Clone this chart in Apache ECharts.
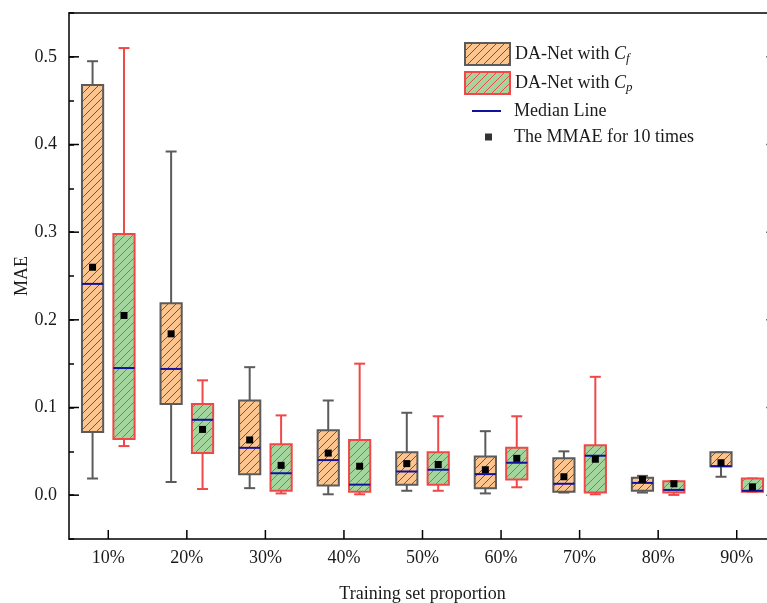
<!DOCTYPE html>
<html>
<head>
<meta charset="utf-8">
<script src="https://cdn.jsdelivr.net/npm/echarts@6/dist/echarts.min.js"></script>
<style>
  html, body { margin: 0; padding: 0; background: #fff; }
  #chart { width: 767px; height: 603px; }
</style>
</head>
<body>
<div id="chart"></div>
<script>
  const categories = ['10%', '20%', '30%', '40%', '50%', '60%', '70%', '80%', '90%'];
  const yTicks = [0, 0.1, 0.2, 0.3, 0.4, 0.5];

  // [min, Q1, median, Q3, max]
  const cfBoxes = [
    [0.019, 0.072, 0.241, 0.468, 0.495],
    [0.015, 0.104, 0.144, 0.219, 0.392],
    [0.008, 0.024, 0.054, 0.108, 0.146],
    [0.001, 0.011, 0.040, 0.074, 0.108],
    [0.005, 0.012, 0.027, 0.049, 0.094],
    [0.002, 0.008, 0.024, 0.044, 0.073],
    [0.003, 0.004, 0.013, 0.042, 0.050],
    [0.003, 0.005, 0.014, 0.020, 0.022],
    [0.021, 0.033, 0.033, 0.049, 0.049]
  ];
  const cfMeans = [0.260, 0.184, 0.063, 0.048, 0.036, 0.029, 0.021, 0.018, 0.037];

  const cpBoxes = [
    [0.056, 0.064, 0.145, 0.298, 0.510],
    [0.007, 0.048, 0.086, 0.104, 0.131],
    [0.002, 0.005, 0.025, 0.058, 0.091],
    [0.001, 0.004, 0.012, 0.063, 0.150],
    [0.005, 0.012, 0.029, 0.049, 0.090],
    [0.009, 0.018, 0.037, 0.054, 0.090],
    [0.001, 0.003, 0.045, 0.057, 0.135],
    [0.0003, 0.003, 0.006, 0.016, 0.016],
    [0.004, 0.004, 0.005, 0.019, 0.019]
  ];
  const cpMeans = [0.205, 0.075, 0.034, 0.033, 0.035, 0.042, 0.041, 0.013, 0.0095];

  const font = 'Liberation Serif';
  const cfName = 'DA-Net with Cf', cpName = 'DA-Net with Cp';
  const medianName = 'Median Line', meanName = 'The MMAE for 10 times';
  const medianColor = '#12129c';
  const yMin = -0.05, yMax = 0.55;

  function hatch(bg, line) {
    let c = document.createElement('canvas');
    c.width = 8; c.height = 8;
    let ctx = c.getContext('2d');
    ctx.fillStyle = bg;
    ctx.fillRect(0, 0, 8, 8);
    ctx.strokeStyle = line;
    ctx.lineWidth = 1;
    ctx.beginPath();
    ctx.moveTo(-1, 9); ctx.lineTo(9, -1);
    ctx.moveTo(-1, 1); ctx.lineTo(1, -1);
    ctx.moveTo(7, 9); ctx.lineTo(9, 7);
    ctx.stroke();
    return { image: c, repeat: 'repeat' };
  }

  const cfFill = hatch('#fcc590', '#66584c');
  const cpFill = hatch('#a3d69c', '#ef4a4a');
  const cfStroke = '#5b5b5b', cpStroke = '#f04848';

  function toRows(boxes, means) {
    return boxes.map((b, i) => [i].concat(b, [means[i]]));
  }

  function boxRenderer(side, stroke, fill) {
    return function (params, api) {
      let i = api.value(0);
      let band = api.size([1, 0])[0];
      let cx = api.coord([i, 0])[0] + side * band * 0.2;
      let half = band * 0.135, cap = band * 0.07;
      let y = k => api.coord([i, api.value(k)])[1];
      let yLo = y(1), yQ1 = y(2), yMed = y(3), yQ3 = y(4), yHi = y(5), yMean = y(6);
      let ls = { stroke: stroke, lineWidth: 2 };
      return {
        type: 'group',
        children: [
          { type: 'line', shape: { x1: cx, y1: yHi, x2: cx, y2: yQ3 }, style: ls },
          { type: 'line', shape: { x1: cx, y1: yQ1, x2: cx, y2: yLo }, style: ls },
          { type: 'line', shape: { x1: cx - cap, y1: yHi, x2: cx + cap, y2: yHi }, style: ls },
          { type: 'line', shape: { x1: cx - cap, y1: yLo, x2: cx + cap, y2: yLo }, style: ls },
          { type: 'rect', shape: { x: cx - half, y: yQ3, width: 2 * half, height: yQ1 - yQ3 },
            style: { fill: fill, stroke: stroke, lineWidth: 2 } },
          { type: 'line', shape: { x1: cx - half, y1: yMed, x2: cx + half, y2: yMed },
            style: { stroke: medianColor, lineWidth: 2 } },
          { type: 'rect', shape: { x: cx - 3.5, y: yMean - 3.5, width: 7, height: 7 },
            style: { fill: '#000' } }
        ]
      };
    };
  }

  // inward ticks on the category axis, at each category centre
  function xTickRenderer(params, api) {
    let p = api.coord([api.value(0), yMin]);
    return {
      type: 'line',
      shape: { x1: p[0], y1: p[1], x2: p[0], y2: p[1] - 9 },
      style: { stroke: '#000', lineWidth: 1.5 }
    };
  }

  // inward major ticks on the left and right frame
  function yTickRenderer(params, api) {
    let band = api.size([1, 0])[0];
    let p = api.coord([0, api.value(0)]);
    let q = api.coord([categories.length - 1, api.value(0)]);
    let left = p[0] - band / 2, right = q[0] + band / 2;
    return {
      type: 'group',
      children: [
        { type: 'line', shape: { x1: left, y1: p[1], x2: left + 10, y2: p[1] },
          style: { stroke: '#000', lineWidth: 1.5 } },
        { type: 'line', shape: { x1: right - 10, y1: p[1], x2: right, y2: p[1] },
          style: { stroke: '#777', lineWidth: 1.5 } }
      ]
    };
  }

  let chart = echarts.init(document.getElementById('chart'));

  let textBase = { fontFamily: font, fontSize: 18, color: '#1a1a1a' };
  let axisPen = { color: '#000', width: 1.5 };

  let option = {
    backgroundColor: '#fff',
    animation: false,
    grid: {
      left: 69, right: -9, top: 13, bottom: 64,
      outerBoundsMode: 'none', containLabel: false, show: false
    },
    legend: [
      {
        orient: 'vertical', left: 464, top: 42, padding: 0, itemWidth: 45, itemHeight: 22, itemGap: 5,
        selectedMode: false,
        data: [
          { name: cfName, icon: 'rect', itemStyle: { color: cfFill, borderColor: cfStroke, borderWidth: 2 } },
          { name: cpName, icon: 'rect', itemStyle: { color: cpFill, borderColor: cpStroke, borderWidth: 2 } }
        ],
        formatter: name => 'DA-Net with {i|C}{s|' + name.slice(-1) + '}',
        textStyle: Object.assign({}, textBase, {
          lineHeight: 22,
          rich: {
            i: { fontFamily: font, fontSize: 18, fontStyle: 'italic', color: '#1a1a1a', lineHeight: 22 },
            s: { fontFamily: font, fontSize: 13, fontStyle: 'italic', color: '#1a1a1a', lineHeight: 12, verticalAlign: 'bottom' }
          }
        })
      },
      {
        orient: 'vertical', left: 472, top: 102, padding: 0, itemWidth: 29, itemHeight: 2,
        selectedMode: false,
        data: [{ name: medianName, icon: 'rect', itemStyle: { color: medianColor } }],
        textStyle: Object.assign({}, textBase, { padding: [0, 0, 0, 8] })
      },
      {
        orient: 'vertical', left: 485, top: 128, padding: 0, itemWidth: 7, itemHeight: 7,
        selectedMode: false,
        data: [{ name: meanName, icon: 'rect' }],
        textStyle: Object.assign({}, textBase, { padding: [0, 0, 0, 17] })
      }
    ],
    xAxis: [
      {
        type: 'category',
        data: categories,
        position: 'bottom',
        offset: 0,
        boundaryGap: true,
        axisLine: { show: true, onZero: false, lineStyle: axisPen },
        axisTick: { show: false },
        axisLabel: Object.assign({}, textBase, { margin: 10 }),
        splitLine: { show: false },
        name: 'Training set proportion',
        nameLocation: 'middle',
        nameGap: 46,
        nameTextStyle: textBase
      },
      {
        type: 'category',
        data: categories,
        position: 'top',
        offset: 0,
        axisLine: { show: true, onZero: false, lineStyle: axisPen },
        axisTick: { show: false },
        axisLabel: { show: false },
        splitLine: { show: false }
      }
    ],
    yAxis: {
      type: 'value', min: yMin, max: yMax, interval: 0.05, position: 'left', offset: 0,
      axisLine: { show: true, onZero: false, lineStyle: axisPen },
      axisTick: { show: true, inside: true, length: 5, lineStyle: axisPen },
      splitLine: { show: false },
      axisLabel: Object.assign({}, textBase, {
        margin: 12,
        formatter: v => {
          let t = yTicks.find(k => Math.abs(k - v) < 1e-6);
          return t === undefined ? '' : t.toFixed(1);
        }
      }),
      name: 'MAE',
      nameLocation: 'middle',
      nameMoveOverlap: false,
      nameGap: 38,
      nameTextStyle: textBase
    },
    series: [
      {
        name: 'xticks', type: 'custom', silent: true,
        encode: { x: 0 },
        data: categories.map((c, i) => [i]),
        renderItem: xTickRenderer
      },
      {
        name: 'yticks', type: 'custom', silent: true,
        encode: { y: 0 },
        data: yTicks.map(v => [v]),
        renderItem: yTickRenderer
      },
      {
        name: cfName, type: 'custom',
        itemStyle: { color: cfFill, borderColor: cfStroke },
        encode: { x: 0, y: [1, 2, 3, 4, 5] },
        data: toRows(cfBoxes, cfMeans),
        renderItem: boxRenderer(-1, cfStroke, cfFill)
      },
      {
        name: cpName, type: 'custom',
        itemStyle: { color: cpFill, borderColor: cpStroke },
        encode: { x: 0, y: [1, 2, 3, 4, 5] },
        data: toRows(cpBoxes, cpMeans),
        renderItem: boxRenderer(1, cpStroke, cpFill)
      },
      {
        name: medianName, type: 'line', data: [], symbol: 'none',
        lineStyle: { color: medianColor, width: 2 }, itemStyle: { color: medianColor }
      },
      {
        name: meanName, type: 'scatter', data: [], symbol: 'rect',
        itemStyle: { color: '#000' }
      }
    ]
  };

  chart.setOption(option);
</script>
</body>
</html>
